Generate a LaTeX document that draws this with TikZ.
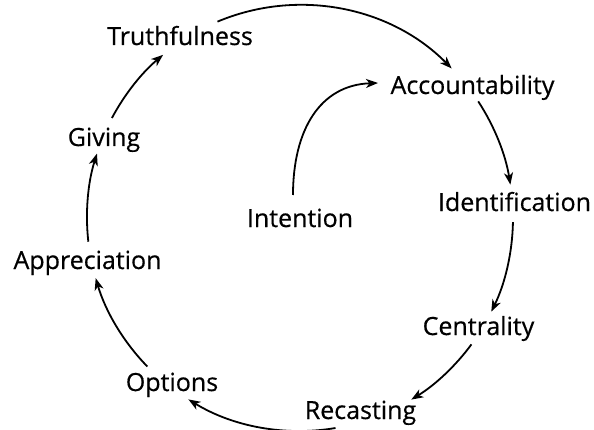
\documentclass[tikz,border=0pt]{standalone}
\usepackage{fontspec}
\setmainfont{Open Sans}
\newfontfamily\lblfont[FakeBold=0.5]{Open Sans}
\usetikzlibrary{arrows.meta}
\begin{document}
\begin{tikzpicture}[x=1pt,y=1pt,
  lbl/.style={anchor=base,inner sep=0pt,font=\lblfont\fontsize{25}{30}\selectfont},
  arr/.style={line width=1.8pt,-{Stealth[length=12pt,width=9pt,inset=3.5pt]}}]
\useasboundingbox (0,0) rectangle (594,429);
\node[lbl] (truth) at (180,384) {Truthfulness};
\node[lbl] (acc) at (472.5,335) {Accountability};
\node[lbl] (ident) at (514.5,218) {Identification};
\node[lbl] (centr) at (478.5,94) {Centrality};
\node[lbl] (recast) at (360.5,10) {Recasting};
\node[lbl] (opt) at (172,38) {Options};
\node[lbl] (appr) at (87.5,160) {Appreciation};
\node[lbl] (giv) at (104,283) {Giving};
\node[lbl] (inten) at (300,202) {Intention};
\coordinate (C) at (300,211);
\def\R{213pt}
\coordinate (s1) at ([shift={(112.8:\R)}]C);
\coordinate (s2) at ([shift={(33.2:\R)}]C);
\coordinate (s3) at ([shift={(-1.1:\R)}]C);
\coordinate (s4) at ([shift={(-36.4:\R)}]C);
\coordinate (s5) at ([shift={(-80.4:\R)}]C);
\coordinate (s6) at ([shift={(-135.8:\R)}]C);
\coordinate (s7) at ([shift={(186.4:\R)}]C);
\coordinate (s8) at ([shift={(152:\R)}]C);
\draw[arr] (s1) arc[start angle=112.8,end angle=44.6,radius=\R];
\draw[arr] (s2) arc[start angle=33.2,end angle=9,radius=\R];
\draw[arr] (s3) arc[start angle=-1.1,end angle=-26.1,radius=\R];
\draw[arr] (s4) arc[start angle=-36.4,end angle=-58.5,radius=\R];
\draw[arr] (s5) arc[start angle=-80.4,end angle=-121.6,radius=\R];
\draw[arr] (s6) arc[start angle=-135.8,end angle=-163.6,radius=\R];
\draw[arr] (s7) arc[start angle=186.4,end angle=162.4,radius=\R];
\draw[arr] (s8) arc[start angle=152,end angle=130,radius=\R];
\coordinate (i1) at (293,234);
\coordinate (i2) at (378,346);
\draw[arr] (i1) .. controls (293,299) and (320,344) .. (i2);
\end{tikzpicture}
\end{document}
